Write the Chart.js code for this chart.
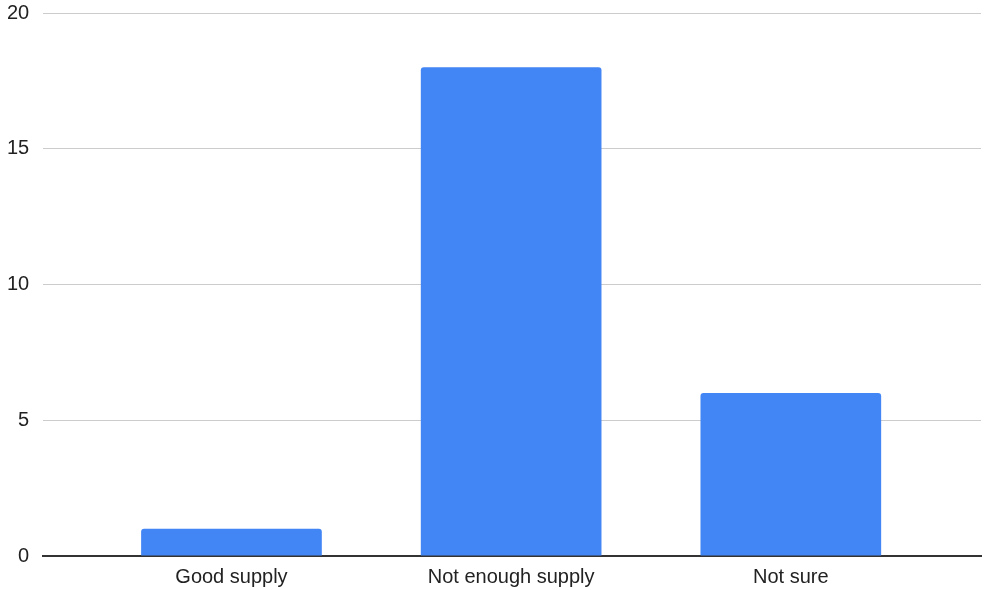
<!DOCTYPE html>
<html>
<head>
<meta charset="utf-8">
<script src="https://cdn.jsdelivr.net/npm/chart.js@4"></script>
<style>
  html, body { margin: 0; padding: 0; background: #fff; overflow: hidden; }
  #wrap { width: 984px; height: 590px; position: relative; overflow: hidden; }
  #inner { position: absolute; left: 0; top: -13px; width: 984px; height: 603px; }
</style>
</head>
<body>
<div id="wrap"><div id="inner"><canvas id="chart"></canvas></div></div>
<script>
// answers and counts
var categories = ['Good supply', 'Not enough supply', 'Not sure'];
var counts = [1, 18, 6];
var yTicks = [0, 5, 10, 15, 20];

Chart.defaults.font.family = '"Liberation Sans", Arial, sans-serif';
Chart.defaults.font.size = 20;
Chart.defaults.color = '#222';

var points = counts.map(function(v, i) { return { x: i, y: v }; });

new Chart(document.getElementById('chart'), {
  type: 'bar',
  data: {
    datasets: [{
      data: points,
      backgroundColor: '#4285f4',
      borderRadius: { topLeft: 3, topRight: 3 },
      borderSkipped: 'bottom',
      categoryPercentage: 1,
      barPercentage: 0.646
    }]
  },
  options: {
    responsive: true,
    maintainAspectRatio: false,
    animation: false,
    layout: { padding: { top: 0, right: 3, bottom: -8, left: -7 } },
    plugins: { legend: { display: false }, tooltip: { enabled: false } },
    scales: {
      x: {
        type: 'linear',
        bounds: 'data',
        offset: false,
        min: -0.673,
        max: 2.68,
        afterBuildTicks: function(axis) {
          axis.ticks = categories.map(function(c, i) { return { value: i }; });
        },
        grid: { display: false, drawTicks: false, offset: false },
        border: { display: true, color: '#333', width: 2 },
        ticks: {
          padding: 9,
          maxRotation: 0,
          callback: function(v) { return categories[v]; }
        }
      },
      y: {
        min: 0,
        max: 20,
        afterBuildTicks: function(axis) {
          axis.ticks = yTicks.map(function(v) { return { value: v }; });
        },
        grid: { color: '#ccc', drawTicks: false, lineWidth: 1 },
        border: { display: false },
        ticks: { padding: 14 }
      }
    }
  }
});
</script>
</body>
</html>
